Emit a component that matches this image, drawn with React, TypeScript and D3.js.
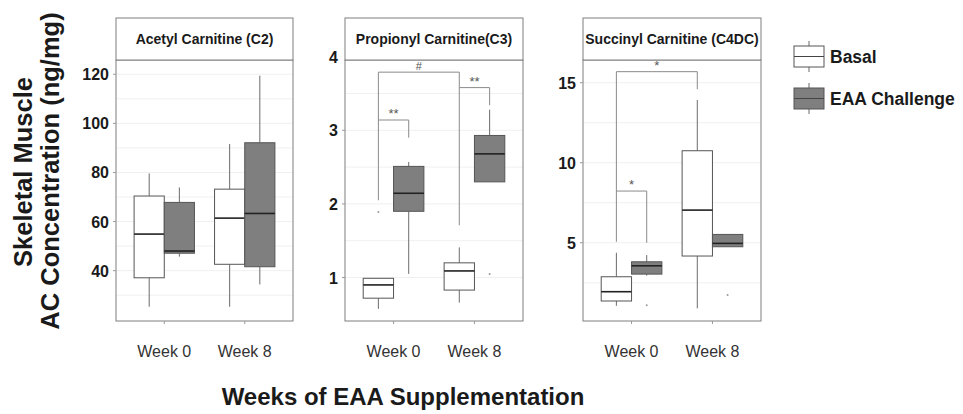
import { scaleLinear, scalePoint } from 'd3'

// categories
const weeks = ['Week 0', 'Week 8']
const groups = ['Basal', 'EAA Challenge']
const panelTitles = ['Acetyl Carnitine (C2)', 'Propionyl Carnitine(C3)', 'Succinyl Carnitine (C4DC)']

// box stats per week: [lower whisker, q1, median, q3, upper whisker]
const c2Basal = [
  [25.3, 37.1, 54.9, 70.4, 79.6],
  [25.3, 42.6, 61.4, 73.2, 91.6],
]
const c2Eaa = [
  [45.7, 47.1, 48.0, 67.8, 73.9],
  [34.4, 41.6, 63.3, 92.1, 119.4],
]
const c3Basal = [
  [0.575, 0.72, 0.9, 0.99, 0.99],
  [0.66, 0.83, 1.09, 1.2, 1.41],
]
const c3Eaa = [
  [1.05, 1.9, 2.145, 2.51, 2.57],
  [2.3, 2.3, 2.68, 2.93, 3.28],
]
const c4Basal = [
  [1.06, 1.36, 1.94, 2.875, 4.375],
  [0.9, 4.17, 7.04, 10.75, 13.92],
]
const c4Eaa = [
  [2.94, 3.04, 3.56, 3.81, 4.23],
  [4.75, 4.75, 4.96, 5.52, 5.52],
]

// outliers: [week index, group index, value]
const c2Outliers: [number, number, number][] = []
const c3Outliers: [number, number, number][] = [
  [0, 0, 1.89],
  [1, 1, 1.05],
]
const c4Outliers: [number, number, number][] = [
  [0, 1, 1.1],
  [1, 1, 1.73],
]

// tick labels
const c2Ticks = [40, 60, 80, 100, 120]
const c3Ticks = [1, 2, 3, 4]
const c4Ticks = [5, 10, 15]
const c2Minor = [30, 50, 70, 90, 110]
const c3Minor = [1.5, 2.5, 3.5]
const c4Minor = [2.5, 7.5, 12.5]

// significance brackets: from [week, group] to [week, group]
interface Bracket {
  from: [number, number]
  to: [number, number]
  top: number
  leftEnd: number
  rightEnd: number
  label: string
}
const c3Brackets: Bracket[] = [
  { from: [0, 0], to: [1, 0], top: 3.79, leftEnd: 2.05, rightEnd: 1.71, label: '#' },
  { from: [0, 0], to: [0, 1], top: 3.14, leftEnd: 3.14, rightEnd: 2.9, label: '**' },
  { from: [1, 0], to: [1, 1], top: 3.58, leftEnd: 3.58, rightEnd: 3.34, label: '**' },
]
const c4Brackets: Bracket[] = [
  { from: [0, 0], to: [1, 0], top: 15.69, leftEnd: 5.06, rightEnd: 14.59, label: '*' },
  { from: [0, 0], to: [0, 1], top: 8.23, leftEnd: 8.23, rightEnd: 5.0, label: '*' },
]

const panels = [
  { title: panelTitles[0], left: 116, right: 293, domain: [19.5, 125.8], ticks: c2Ticks, minor: c2Minor, boxes: [c2Basal, c2Eaa], outliers: c2Outliers, brackets: [] as Bracket[] },
  { title: panelTitles[1], left: 345, right: 523, domain: [0.41, 3.955], ticks: c3Ticks, minor: c3Minor, boxes: [c3Basal, c3Eaa], outliers: c3Outliers, brackets: c3Brackets },
  { title: panelTitles[2], left: 583, right: 761, domain: [0.11, 16.42], ticks: c4Ticks, minor: c4Minor, boxes: [c4Basal, c4Eaa], outliers: c4Outliers, brackets: c4Brackets },
]

const groupFill = ['#ffffff', '#7f7f7f']
const font = '"Liberation Sans", Arial, Helvetica, sans-serif'
const stripTop = 18
const plotTop = 60
const plotBottom = 321

function Panel({ panel }: { panel: (typeof panels)[number] }) {
  const x = scalePoint<string>().domain(weeks).range([panel.left, panel.right]).padding(0.6)
  const step = x.step()
  const boxWidth = step * 0.375
  const y = scaleLinear().domain(panel.domain).range([plotBottom, plotTop])
  const cx = (w: number, g: number) => (x(weeks[w]) ?? 0) + (g === 0 ? -1 : 1) * boxWidth / 2

  return (
    <g>
      <rect x={panel.left} y={plotTop} width={panel.right - panel.left} height={plotBottom - plotTop} fill="#fff" />
      {[...panel.minor, ...panel.ticks].filter(v => y(v) > plotTop && y(v) < plotBottom).map(v => (
        <line key={`g${v}`} x1={panel.left} x2={panel.right} y1={y(v)} y2={y(v)} stroke="#f0f0f0" strokeWidth={1} />
      ))}
      {panel.boxes.map((series, g) =>
        series.map((s, w) => {
          const c = cx(w, g)
          const [lo, q1, med, q3, hi] = s
          return (
            <g key={`b${g}${w}`}>
              <line x1={c} x2={c} y1={y(hi)} y2={y(q3)} stroke="#6b6b6b" />
              <line x1={c} x2={c} y1={y(q1)} y2={y(lo)} stroke="#6b6b6b" />
              <rect x={c - boxWidth / 2} y={y(q3)} width={boxWidth} height={y(q1) - y(q3)} fill={groupFill[g]} stroke="#555" strokeWidth={1} />
              <line x1={c - boxWidth / 2} x2={c + boxWidth / 2} y1={y(med)} y2={y(med)} stroke="#222" strokeWidth={1.6} />
            </g>
          )
        })
      )}
      {panel.outliers.map(([w, g, v], i) => (
        <circle key={`o${i}`} cx={cx(w, g)} cy={y(v)} r={1} fill="#999" />
      ))}
      {panel.brackets.map((b, i) => {
        const x1 = cx(b.from[0], b.from[1])
        const x2 = cx(b.to[0], b.to[1])
        return (
          <g key={`k${i}`} fill="none" stroke="#8a8a8a" strokeWidth={1}>
            <path d={`M${x1},${y(b.leftEnd)}V${y(b.top)}H${x2}V${y(b.rightEnd)}`} />
            <text x={(x1 + x2) / 2} y={y(b.top) - 2} textAnchor="middle" fontSize={b.label === '#' ? 11 : 13} fill="#555" stroke="none" fontFamily={font}>
              {b.label}
            </text>
          </g>
        )
      })}
      <rect x={panel.left} y={plotTop} width={panel.right - panel.left} height={plotBottom - plotTop} fill="none" stroke="#7f7f7f" />
      <rect x={panel.left} y={stripTop} width={panel.right - panel.left} height={plotTop - stripTop} fill="#fff" stroke="#7f7f7f" />
      <text x={(panel.left + panel.right) / 2} y={(stripTop + plotTop) / 2 + 5} textAnchor="middle" fontSize={14} fontWeight="bold" fill="#1a1a1a" fontFamily={font}>
        {panel.title}
      </text>
      {panel.ticks.map(v => (
        <g key={`t${v}`}>
          {y(v) >= plotTop && <line x1={panel.left - 3} x2={panel.left} y1={y(v)} y2={y(v)} stroke="#999" />}
          <text x={panel.left - 7} y={y(v) + 6} textAnchor="end" fontSize={16} fontWeight="bold" fill="#1a1a1a" fontFamily={font}>
            {v}
          </text>
        </g>
      ))}
      {weeks.map(w => (
        <g key={w}>
          <line x1={x(w)} x2={x(w)} y1={plotBottom} y2={plotBottom + 3} stroke="#999" />
          <text x={x(w)} y={357} textAnchor="middle" fontSize={16} fill="#333" fontFamily={font}>
            {w}
          </text>
        </g>
      ))}
    </g>
  )
}

function LegendKey({ top, fill, label }: { top: number; fill: string; label: string }) {
  const left = 794
  const w = 30
  const h = 21
  const cxk = left + w / 2
  return (
    <g>
      <line x1={cxk} x2={cxk} y1={top - 5} y2={top + h + 5} stroke="#6b6b6b" />
      <rect x={left} y={top} width={w} height={h} fill={fill} stroke="#555" />
      <line x1={left} x2={left + w} y1={top + h / 2} y2={top + h / 2} stroke="#444" />
      <text x={830} y={top + h / 2 + 6} fontSize={17.5} fontWeight="bold" fill="#1a1a1a" fontFamily={font}>
        {label}
      </text>
    </g>
  )
}

export default function App() {
  return (
    <svg width={963} height={414} style={{ position: 'absolute', left: 0, top: 0, background: '#fff' }}>
      <rect width={963} height={414} fill="#fff" />
      {panels.map(p => (
        <Panel key={p.title} panel={p} />
      ))}
      <LegendKey top={46} fill={groupFill[0]} label={groups[0]} />
      <LegendKey top={88} fill={groupFill[1]} label={groups[1]} />
      <text transform="translate(32,172) rotate(-90)" textAnchor="middle" fontSize={25.5} fontWeight="bold" fill="#1a1a1a" fontFamily={font}>
        Skeletal Muscle
      </text>
      <text transform="translate(59,171) rotate(-90)" textAnchor="middle" fontSize={25.5} fontWeight="bold" fill="#1a1a1a" fontFamily={font}>
        AC Concentration (ng/mg)
      </text>
      <text x={403} y={405} textAnchor="middle" fontSize={24} fontWeight="bold" fill="#1a1a1a" fontFamily={font}>
        Weeks of EAA Supplementation
      </text>
    </svg>
  )
}
